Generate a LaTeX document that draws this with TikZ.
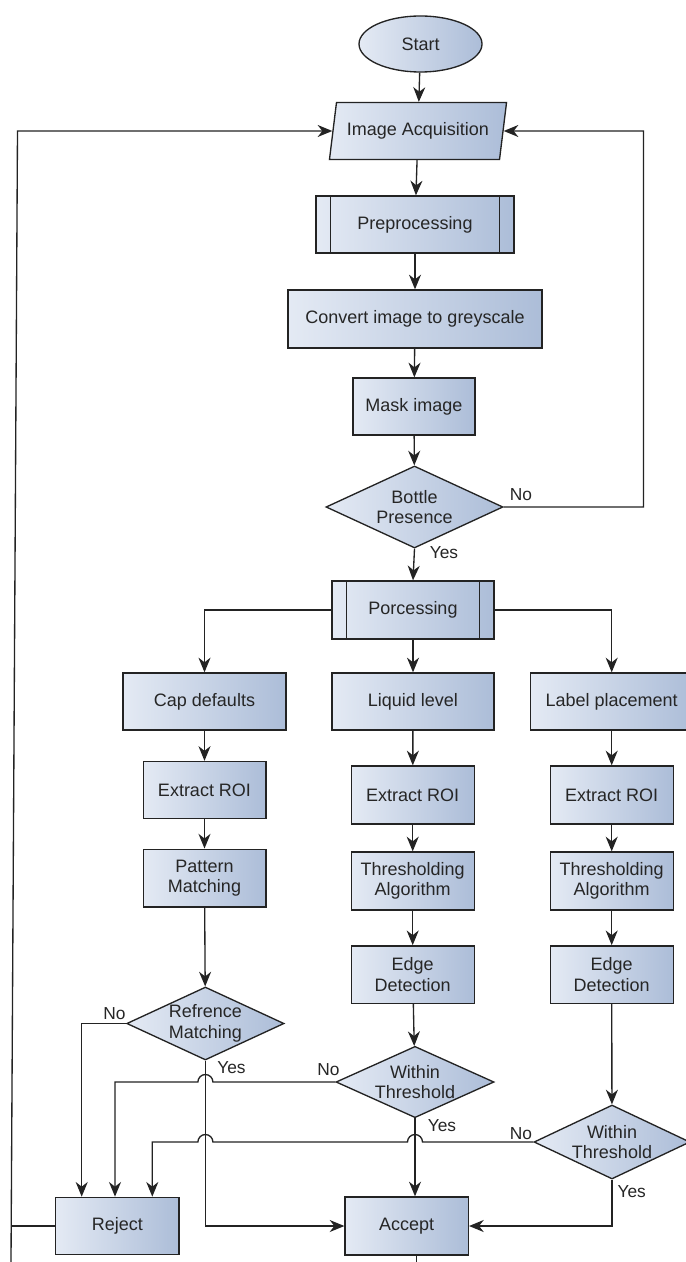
\documentclass[tikz,border=0pt]{standalone}
\usepackage{fontspec}
\setmainfont{Liberation Sans}
\usetikzlibrary{shapes.geometric, arrows.meta, calc}
\definecolor{boxL}{RGB}{228,234,244}
\definecolor{boxR}{RGB}{172,189,216}
\definecolor{lineC}{RGB}{35,35,35}
\newcommand{\fs}{\fontsize{13.5}{15.5}\selectfont}
\newcommand{\fl}{\fontsize{13}{15}\selectfont}
\begin{document}
\begin{tikzpicture}[x=0.75pt, y=-0.75pt,
  >={Stealth[length=11pt,width=9pt,inset=3.5pt]},
  shp/.style={draw=lineC, line width=1pt, left color=boxL, right color=boxR,
    font=\fs, text=black!85, align=center, inner sep=2pt},
  blk/.style 2 args={shp, rectangle, minimum width=#1, minimum height=#2},
  subproc/.style 2 args={blk={#1}{#2},
    path picture={\draw[draw=lineC, line width=1pt]
      ([xshift=11pt]path picture bounding box.north west) -- ([xshift=11pt]path picture bounding box.south west)
      ([xshift=-11pt]path picture bounding box.north east) -- ([xshift=-11pt]path picture bounding box.south east);}},
  dia/.style 2 args={shp, diamond, minimum width=#1, minimum height=#2, inner sep=0pt},
  dtext/.style={font=\fs, text=black!85, align=center, inner sep=0pt},
  lbl/.style={font=\fl, text=black!85, inner sep=0pt},
  ln/.style={draw=lineC, line width=1pt}
]
\path[fill=white, use as bounding box] (0,0) rectangle (685,1262);

% nodes
\node[shp, ellipse, minimum width=92.25pt, minimum height=42pt] (start) at (420.5,44) {Start};
\node[shp, trapezium, trapezium left angle=74, trapezium right angle=106,
      trapezium stretches=true, minimum width=133pt, minimum height=42.75pt] (ia) at (418,131) {Image Acquisition};
\node[subproc={148.5pt}{42.75pt}] (pre) at (415,224.5) {Preprocessing};
\node[blk={190.5pt}{43.5pt}] (conv) at (415,319) {Convert image to greyscale};
\node[blk={91.5pt}{42.75pt}] (mask) at (414,406.5) {Mask image};
\node[dia={132.75pt}{61.5pt}] (bottle) at (414.5,507) {};
\node[dtext] (bottleT) at (bottle) {Bottle\\Presence};
\node[subproc={121.5pt}{43.5pt}] (proc) at (413,610) {Porcessing};

\node[blk={122.25pt}{42.75pt}] (cap) at (204.5,701.5) {Cap defaults};
\node[blk={121.5pt}{42.75pt}] (liq) at (413,701.5) {Liquid level};
\node[blk={122.25pt}{42.75pt}] (lab) at (611.7,701.5) {Label placement};

\node[blk={92pt}{42.75pt}] (ex1) at (204.5,790) {Extract ROI};
\node[blk={92.25pt}{43.5pt}] (ex2) at (412.7,795) {Extract ROI};
\node[blk={92.25pt}{43.5pt}] (ex3) at (611.7,795) {Extract ROI};

\node[blk={92pt}{43.25pt}] (pm) at (204.5,878) {Pattern\\Matching};
\node[blk={92.25pt}{43.5pt}] (th2) at (412.7,881) {Thresholding\\Algorithm};
\node[blk={92.25pt}{43.5pt}] (th3) at (611.7,881) {Thresholding\\Algorithm};

\node[blk={92.25pt}{43pt}] (ed2) at (412.7,974.5) {Edge\\Detection};
\node[blk={92.25pt}{43pt}] (ed3) at (611.7,974.5) {Edge\\Detection};

\node[dia={118pt}{54.75pt}] (rm) at (205.4,1023.5) {};
\node[dtext] (rmT) at (rm) {Refrence\\Matching};
\node[dia={118.5pt}{53.5pt}] (wt2) at (415,1082) {};
\node[dtext] (wt2T) at (wt2) {Within\\Threshold};
\node[dia={117pt}{55.5pt}] (wt3) at (612,1142) {};
\node[dtext] (wt3T) at (wt3) {Within\\Threshold};

\node[blk={92.5pt}{43pt}] (rej) at (117.3,1226) {Reject};
\node[blk={92.5pt}{43.5pt}] (acc) at (406.7,1226) {Accept};

% helper coordinates
\coordinate (rloop) at (643.5,131);
\coordinate (lTop) at (17.5,131);
\coordinate (lBot) at (11,1262);
\coordinate (lJoin) at (11.2,1226);
\coordinate (aBot) at (416.7,1262);
\coordinate (jA) at (81.7,0);
\coordinate (jB) at (115,0);
\coordinate (jC) at (152.3,0);

% main column
\draw[ln,->] (start) -- (ia);
\draw[ln,->] (ia) -- (pre);
\draw[ln,->] (pre) -- (conv);
\draw[ln,->] (conv) -- (mask);
\draw[ln,->] (mask) -- (bottle);
\draw[ln,->] (bottle.south) -- (proc.north);
\draw[ln,->] (bottle.east) -| (rloop) -- (ia);

% branches
\draw[ln,->] (proc.west) -| (cap.north);
\draw[ln,->] (proc.east) -| (lab.north);
\draw[ln,->] (proc) -- (liq);

\draw[ln,->] (cap) -- (ex1);
\draw[ln,->] (ex1) -- (pm);
\draw[ln,->] (pm) -- (rm);

\draw[ln,->] (liq) -- (ex2);
\draw[ln,->] (ex2) -- (th2);
\draw[ln,->] (th2) -- (ed2);
\draw[ln,->] (ed2) -- (wt2);

\draw[ln,->] (lab) -- (ex3);
\draw[ln,->] (ex3) -- (th3);
\draw[ln,->] (th3) -- (ed3);
\draw[ln,->] (ed3) -- (wt3);

% decisions
\draw[ln,->] (rm.west) -| (jA |- rej.north);
\draw[ln,->] (rm.south) |- (acc.west);

\draw[ln,->] (wt2.west) -- ($(rm.south |- wt2.west)+(7.5,0)$)
   arc[start angle=0, end angle=180, radius=5.625pt] -| (jB |- rej.north);
\draw[ln,->] (wt2.south) -- (wt2.south |- acc.north);

\draw[ln,->] (wt3.west) -- ($(wt2.south |- wt3.west)+(7.5,0)$)
   arc[start angle=0, end angle=180, radius=5.625pt]
   -- ($(rm.south |- wt3.west)+(7.5,0)$)
   arc[start angle=0, end angle=180, radius=5.625pt] -| (jC |- rej.north);
\draw[ln,->] (wt3.south) |- (acc.east);

% loops
\draw[ln] (rej.west) -- (lJoin);
\draw[ln,->] (lBot) -- (lTop) -- (ia);
\draw[ln] (aBot |- acc.south) -- (aBot);

% labels
\node[lbl] (nBottle) at (521,495) {No};
\node[lbl] (yBottle) at (444,553) {Yes};
\node[lbl] (nRm) at (114.5,1014) {No};
\node[lbl] (yRm) at (231.5,1068) {Yes};
\node[lbl] (nWt2) at (328.5,1070) {No};
\node[lbl] (yWt2) at (442,1125.7) {Yes};
\node[lbl] (nWt3) at (521,1134) {No};
\node[lbl] (yWt3) at (631.7,1191.7) {Yes};
\end{tikzpicture}
\end{document}
